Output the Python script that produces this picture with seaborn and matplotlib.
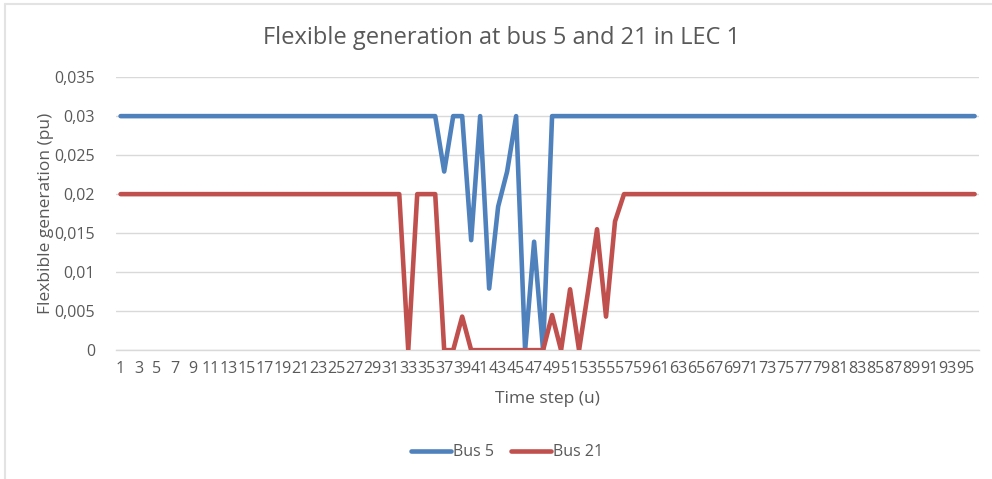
import numpy as np
import pandas as pd
import seaborn as sns
import matplotlib.pyplot as plt
from matplotlib.lines import Line2D

# Valores (pu), passos de tempo 1..96
time_step = list(range(1, 97))

bus5 = [
    0.03, 0.03, 0.03, 0.03, 0.03, 0.03, 0.03, 0.03, 0.03, 0.03, 0.03, 0.03,
    0.03, 0.03, 0.03, 0.03, 0.03, 0.03, 0.03, 0.03, 0.03, 0.03, 0.03, 0.03,
    0.03, 0.03, 0.03, 0.03, 0.03, 0.03, 0.03, 0.03, 0.03, 0.03, 0.03, 0.03,
    0.0229, 0.03, 0.03, 0.0141, 0.03, 0.0079, 0.0184, 0.0229, 0.03, 0.0, 0.0139, 0.0,
    0.03, 0.03, 0.03, 0.03, 0.03, 0.03, 0.03, 0.03, 0.03, 0.03, 0.03, 0.03,
    0.03, 0.03, 0.03, 0.03, 0.03, 0.03, 0.03, 0.03, 0.03, 0.03, 0.03, 0.03,
    0.03, 0.03, 0.03, 0.03, 0.03, 0.03, 0.03, 0.03, 0.03, 0.03, 0.03, 0.03,
    0.03, 0.03, 0.03, 0.03, 0.03, 0.03, 0.03, 0.03, 0.03, 0.03, 0.03, 0.03,
]

bus21 = [
    0.02, 0.02, 0.02, 0.02, 0.02, 0.02, 0.02, 0.02, 0.02, 0.02, 0.02, 0.02,
    0.02, 0.02, 0.02, 0.02, 0.02, 0.02, 0.02, 0.02, 0.02, 0.02, 0.02, 0.02,
    0.02, 0.02, 0.02, 0.02, 0.02, 0.02, 0.02, 0.02, 0.0, 0.02, 0.02, 0.02,
    0.0, 0.0, 0.0043, 0.0, 0.0, 0.0, 0.0, 0.0, 0.0, 0.0, 0.0, 0.0,
    0.0045, 0.0, 0.0078, 0.0, 0.0075, 0.0155, 0.0043, 0.0165, 0.02, 0.02, 0.02, 0.02,
    0.02, 0.02, 0.02, 0.02, 0.02, 0.02, 0.02, 0.02, 0.02, 0.02, 0.02, 0.02,
    0.02, 0.02, 0.02, 0.02, 0.02, 0.02, 0.02, 0.02, 0.02, 0.02, 0.02, 0.02,
    0.02, 0.02, 0.02, 0.02, 0.02, 0.02, 0.02, 0.02, 0.02, 0.02, 0.02, 0.02,
]

series_names = ["Bus 5", "Bus 21"]
y_ticks = [0, 0.005, 0.01, 0.015, 0.02, 0.025, 0.03, 0.035]
y_tick_labels = ["0", "0,005", "0,01", "0,015", "0,02", "0,025", "0,03", "0,035"]
x_ticks = list(range(1, 97, 2))

dados = pd.DataFrame({
    "step": time_step * 2,
    "value": bus5 + bus21,
    "serie": [series_names[0]] * len(bus5) + [series_names[1]] * len(bus21),
})

sns.set_style("white")
plt.rcParams["font.family"] = ["Open Sans", "DejaVu Sans"]
cinza = "#595959"

fig = plt.figure(figsize=(9.92, 4.79), dpi=100)
ax = fig.add_axes([0.117, 0.269, 0.870, 0.570])

sns.lineplot(data=dados, x="step", y="value", hue="serie",
             palette=["#4F81BD", "#C0504D"], linewidth=3.3, ax=ax,
             legend=False, zorder=3)

ax.set_xlim(0.5, 96.5)
ax.set_ylim(0, 0.035)
ax.set_yticks(y_ticks)
ax.set_yticklabels(y_tick_labels)
ax.set_xticks(x_ticks)
ax.set_xticklabels([str(t) for t in x_ticks])
ax.tick_params(axis="both", length=0, labelsize=11.5, colors=cinza)
ax.tick_params(axis="y", pad=15)
ax.tick_params(axis="x", pad=8)
ax.yaxis.grid(True, color="#D9D9D9", linewidth=1)
for s in ["top", "right", "left"]:
    ax.spines[s].set_visible(False)
ax.spines["bottom"].set_color("#D9D9D9")
ax.spines["bottom"].set_linewidth(1)

ax.set_xlabel("Time step (u)", fontsize=12.5, color=cinza, labelpad=10)
ax.set_ylabel("Flexbible generation (pu)", fontsize=12.5, color=cinza)
ax.yaxis.set_label_coords(-0.072, 0.5)

fig.text(0.506, 0.921, "Flexible generation at bus 5 and 21 in LEC 1",
         ha="center", va="center", fontsize=17, color=cinza)

handles = [Line2D([0], [0], color=c, linewidth=3.3) for c in ["#4F81BD", "#C0504D"]]
fig.legend(handles, series_names, loc="center", bbox_to_anchor=(0.511, 0.056),
           ncol=2, frameon=False, fontsize=11.5, labelcolor=cinza,
           handlelength=2.5, handletextpad=0.1, columnspacing=1.1)

# moldura cinza clara (esquerda e topo)
fig.add_artist(Line2D([0.005, 0.005], [0.0, 0.992], color="#E3E3E3", linewidth=1.5))
fig.add_artist(Line2D([0.005, 1.0], [0.992, 0.992], color="#E3E3E3", linewidth=1.5))

fig.savefig("out.png", dpi=100)
